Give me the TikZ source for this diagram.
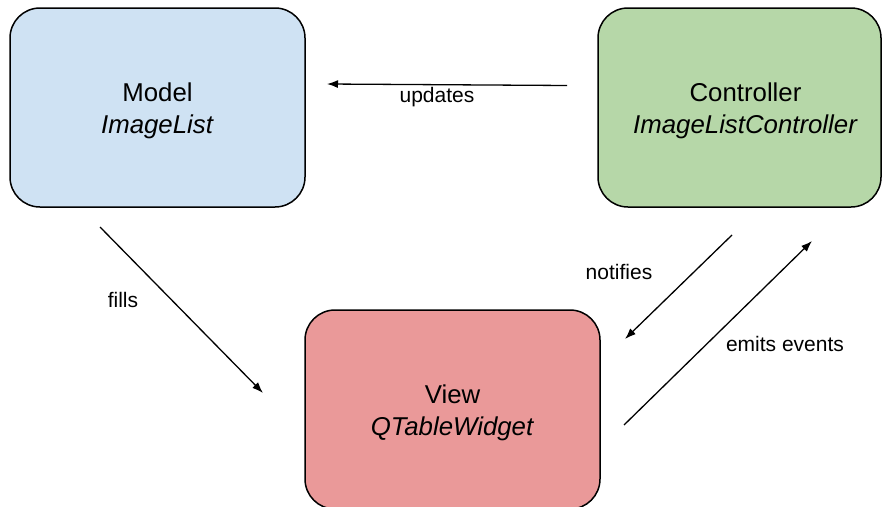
\documentclass[tikz,border=0pt]{standalone}
\usepackage{fontspec}
\setmainfont{Liberation Sans}
\usetikzlibrary{arrows.meta}
\definecolor{modelfill}{HTML}{CFE2F3}
\definecolor{ctrlfill}{HTML}{B6D7A8}
\definecolor{viewfill}{HTML}{EA9999}
\tikzset{
  mvcbox/.style={draw=black, line width=1.5pt, rounded corners=30pt,
    minimum height=199pt, inner sep=0pt},
  boxtext/.style={align=center, inner sep=0pt,
    font=\fontsize{25.8}{32}\selectfont},
  flow/.style={line width=1.3pt, -{Latex[length=11pt,width=8pt]}},
  lbl/.style={font=\fontsize{21}{25}\selectfont, inner sep=0pt}
}
\begin{document}
\begin{tikzpicture}[x=1pt, y=-1pt]
\useasboundingbox (0,0) rectangle (883,506);

% the three MVC boxes
\node[mvcbox, fill=modelfill, minimum width=295pt] (model) at (157.5,107.5) {};
\node[mvcbox, fill=ctrlfill, minimum width=283pt] (ctrl) at (739.5,107.5) {};
\node[mvcbox, fill=viewfill, minimum width=295pt] (view) at (452.5,409.5) {};

% box captions
\node[boxtext] (tmodel) at ([yshift=-3.5pt]model.center)
  {Model\\\textit{ImageList}};
\node[boxtext] (tctrl) at ([yshift=-3.5pt,xshift=6pt]ctrl.center)
  {Controller\\\textit{ImageListController}};
\node[boxtext] (tview) at ([yshift=-3pt]view.center)
  {View\\\textit{QTableWidget}};

% free ends of the connectors
\coordinate (updS) at (567,85.5);
\coordinate (updE) at (327,84);
\coordinate (fillS) at (100,227);
\coordinate (fillE) at (263,393);
\coordinate (notS) at (732,235);
\coordinate (notE) at (625,339);
\coordinate (emiS) at (624,425);
\coordinate (emiE) at (812,241);

\draw[flow] (updS) -- (updE);
\draw[flow] (fillS) -- (fillE);
\draw[flow] (notS) -- (notE);
\draw[flow] (emiS) -- (emiE);

% connector labels
\node[lbl] (lupd) at (437,97) {updates};
\node[lbl] (lfill) at (123,300) {fills};
\node[lbl] (lnot) at (619,272) {notifies};
\node[lbl] (lemi) at (785,344) {emits events};
\end{tikzpicture}
\end{document}
